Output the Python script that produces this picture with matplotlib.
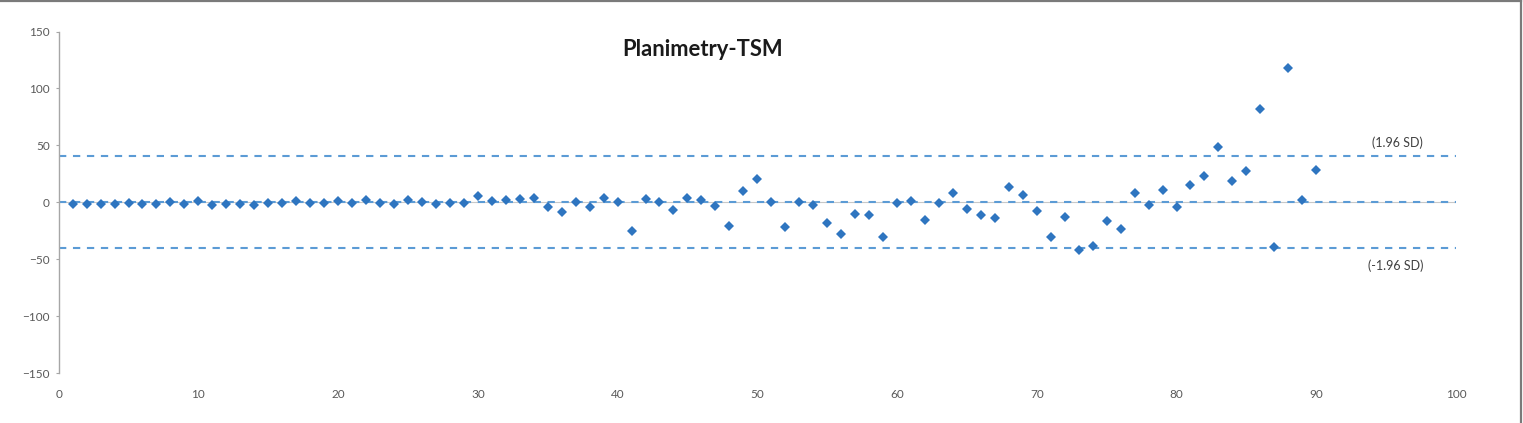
import numpy as np
import matplotlib
matplotlib.use('Agg')
from matplotlib import pyplot as plt

# okunan veriler: gözlem sırası ve fark değerleri
case_no = list(range(1, 91))
diff = [-1, -1, -1, -1.5, -0.5, -1.5, -1.5, 0, -1, 1,
        -2.5, -1.5, -1, -2.5, -0.5, -0.5, 1, -0.5, -0.5, 1.5,
        -0.5, 2.5, -0.5, -1.5, 2, 0, -1, -0.5, -0.5, 6,
        1, 2, 3, 4, -3.7, -8.3, 0.5, -4, 4, 0.7,
        -24.7, 3.4, 0.7, -6.9, 3.7, 2.2, -3, -20.6, 10.4, 20.9,
        0, -21.2, 0.7, -1.9, -18.3, -28, -9.8, -11.3, -30.3, -0.7,
        1.6, -15.4, -0.1, 8, -6, -10.7, -13.3, 13.9, 6.6, -7.5,
        -30, -12.7, -42, -38.2, -16.2, -23.3, 8, -2.2, 11, -4,
        15.2, 23.3, 48.4, 19.2, 27.7, 82.4, -38.8, 118, 1.9, 28.3]

# ortalama ve limitler
mean_line = 0.2
upper_lim = 40.8
lower_lim = -40.2
lim_labels = ['(1.96 SD)', '(-1.96 SD)']

x_ticks = list(range(0, 101, 10))
y_ticks = list(range(-150, 151, 50))

fig = plt.figure(figsize=(15.23, 4.23), dpi=100)
ax = fig.add_axes([0.0385, 0.1175, 0.9175, 0.808])

# sıfır çizgisi (excel yatay ekseni)
ax.axhline(0, color='#c8c8c8', lw=0.8, zorder=1)

# kesikli çizgiler
for yv in [upper_lim, mean_line, lower_lim]:
    ax.plot([0, 100], [yv, yv], color='#5b9bd5', lw=1.5,
            linestyle=(0, (3.5, 3.2)), zorder=2)

# noktalar
ax.plot(case_no, diff, linestyle='none', marker='D', markersize=5.4,
        color='#2e75c0', markeredgewidth=0, zorder=3)

ax.text(95.8, 52.5, lim_labels[0], ha='center', va='center',
        fontsize=9, color='#404040', family='Lato')
ax.text(95.7, -55.8, lim_labels[1], ha='center', va='center',
        fontsize=9, color='#404040', family='Lato')

# başlık excel'deki gibi biraz sola kaymış
ax.text(46.1, 134, 'Planimetry-TSM', fontsize=15.8, fontweight='bold',
        family='Lato', color='#1a1a1a', ha='center', va='center')

ax.set_xlim(0, 100)
ax.set_ylim(-150, 150)
ax.set_xticks(x_ticks)
ax.set_yticks(y_ticks)

for s in ['top', 'right', 'bottom']:
    ax.spines[s].set_visible(False)
ax.spines['left'].set_color('#a6a6a6')
ax.spines['left'].set_linewidth(1.0)

ax.tick_params(axis='y', length=2.5, width=0.8, color='#a6a6a6',
               labelsize=8.5, labelcolor='#595959', pad=4)
ax.tick_params(axis='x', length=0, labelsize=8.5, labelcolor='#595959', pad=11)
for lab in ax.get_xticklabels() + ax.get_yticklabels():
    lab.set_family('Lato')

# dış çerçeve: sadece üst ve sağ kenar
fig.add_artist(plt.Line2D([0, 0.9988], [0.9965, 0.9965], color='#7a7a7a',
                          lw=1.6, transform=fig.transFigure))
fig.add_artist(plt.Line2D([0.9988, 0.9988], [0, 0.9965], color='#7a7a7a',
                          lw=1.6, transform=fig.transFigure))

fig.savefig('out.png', dpi=100)
